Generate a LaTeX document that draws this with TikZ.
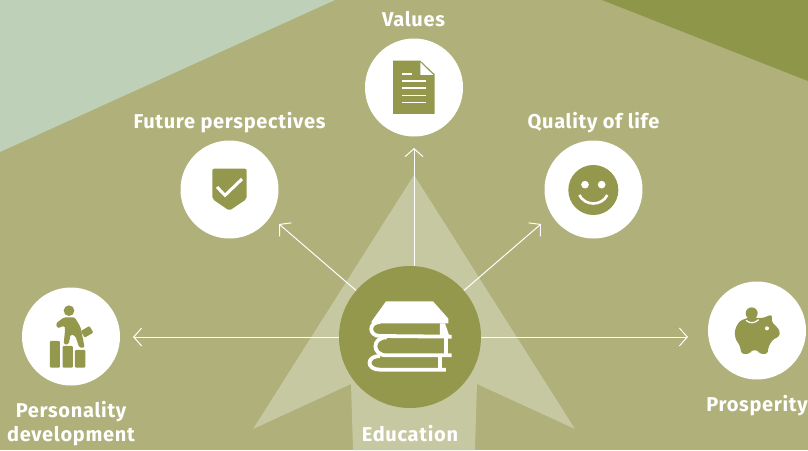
\documentclass[tikz,border=0pt]{standalone}
\usepackage{fontspec}
\setmainfont{Fira Sans}[LetterSpace=3.5]
\usetikzlibrary{arrows.meta}
\definecolor{bgolive}{HTML}{AFB07A}
\definecolor{darkolive}{HTML}{93984D}
\definecolor{cornerolive}{HTML}{8E9649}
\definecolor{palegreen}{HTML}{BFD0B8}
\definecolor{palestar}{HTML}{C6C8A2}
\tikzset{
	topic/.style={circle, fill=white, minimum size=98pt, inner sep=0pt},
	hub/.style={circle, fill=darkolive, minimum size=142pt, inner sep=0pt},
	label/.style={text=white, font=\fontsize{20}{24.5}\selectfont\bfseries, align=center, inner sep=0pt},
	spoke/.style={white, line width=1pt, -{Straight Barb[length=8pt, width=18pt, line width=1pt]}},
	icon/.style={x=0.3333pt, y=-0.3333pt},
	bookline/.style={white, line width=3.8pt},
}
\begin{document}
\begin{tikzpicture}[x=1pt, y=-1pt]
	\useasboundingbox (0, 0) rectangle (808, 450);
	\fill [bgolive] (0, 0) rectangle (808, 450);
	\fill [palegreen] (0, 0) -- (335, 0) -- (0, 152) -- cycle;
	\fill [cornerolive] (602, 0) -- (808, 0) -- (808, 81) -- cycle;
	\fill [palestar] (414, 175) -- (575, 429) -- (477, 384) -- (475, 450) -- (353, 450) -- (351, 384) -- (253, 429) -- cycle;

	\node [topic] (values) at (414, 87.5) {};
	\node [topic] (future) at (229.5, 189.5) {};
	\node [topic] (quality) at (593.5, 189.5) {};
	\node [topic] (personality) at (71, 336.5) {};
	\node [topic] (prosperity) at (757, 330.5) {};

	\coordinate (tipvalues) at (414, 148);
	\coordinate (tipfuture) at (279, 224);
	\coordinate (tipquality) at (541, 224);
	\coordinate (tippersonality) at (133, 337);
	\coordinate (tipprosperity) at (688, 337);
	\coordinate (footvalues) at (414, 337);
	\coordinate (hubcentre) at (410, 337);

	\draw [spoke] (footvalues) -- (tipvalues);
	\foreach \n in {future, quality, personality, prosperity}{
		\draw [spoke] (hubcentre) -- (tip\n);
	}
	\node [hub] (education) at (hubcentre) {};

	\node [label] (valuestext) at (413.5, 19.5) {Values};
	\node [label] (futuretext) at (229.5, 122.5) {Future perspectives};
	\node [label] (qualitytext) at (593.5, 122.5) {Quality of life};
	\node [label] (personalitytext) at (71, 423.5) {Personality\\development};
	\node [label] (prosperitytext) at (757, 405.5) {Prosperity};
	\node [label] (educationtext) at (410, 433.5) {Education};

	% books
	\begin{scope}[shift={(330, 260)}, icon]
		\fill [white] (168, 124) -- (309, 124) -- (355, 176) -- (355, 190) -- (125, 190) -- (125, 184) -- cycle;
		\fill [white] (330, 190) -- (345, 190) -- (358, 228) -- (330, 228) -- cycle;
		\draw [bookline] (150, 186) .. controls (115, 186) and (115, 228) .. (150, 228) -- (365, 230);
		\draw [bookline] (170, 232) .. controls (125, 232) and (125, 286) .. (170, 286) -- (365, 286);
		\draw [bookline] (349, 232) -- (349, 286);
		\draw [bookline] (150, 288) .. controls (108, 288) and (108, 329) .. (150, 329) -- (348, 329);
		\draw [bookline] (330, 288) -- (330, 329);
	\end{scope}

	% climbing man
	\begin{scope}[shift={(10, 280)}, icon]
		\fill [darkolive, rounded corners=1pt] (120, 183) rectangle (150, 263);
		\fill [darkolive, rounded corners=1pt] (158, 198) rectangle (189, 263);
		\fill [darkolive, rounded corners=1pt] (195, 210) rectangle (226, 263);
		\fill [darkolive] (177, 92) circle [radius=16];
		\fill [darkolive, rounded corners=1.5pt] (138, 130) -- (162, 112) -- (194, 112) -- (212, 142) -- (224, 203) -- (208, 203) -- (196, 168) -- (182, 163) -- (176, 193) -- (161, 193) -- (165, 152) -- (164, 137) -- (142, 145) -- cycle;
		\fill [darkolive, rotate around={30:(231, 155)}, rounded corners=1pt] (216, 144) rectangle (246, 167);
	\end{scope}

	% piggy bank
	\begin{scope}[shift={(700, 275)}, icon]
		\fill [darkolive, rounded corners=3pt] (124, 237) -- (120, 212) -- (106, 192) -- (104, 165) -- (118, 138) -- (150, 126) -- (186, 130) -- (217, 118) -- (214, 140) -- (230, 155) -- (240, 168) -- (238, 186) -- (222, 190) -- (206, 212) -- (203, 237) -- (178, 237) -- (176, 226) -- (152, 226) -- (150, 237) -- cycle;
		\draw [white, line width=1.2pt] (138, 136) .. controls (150, 146) and (162, 146) .. (176, 134);
		\fill [darkolive] (155, 115) circle [radius=18];
		\fill [white] (201, 160) circle [radius=6];
	\end{scope}

	% document
	\begin{scope}[shift={(360, 35)}, icon]
		\fill [darkolive] (99, 77) -- (181, 77) -- (224, 118) -- (224, 237) -- (99, 237) -- cycle;
		\fill [white] (181, 82) -- (181, 120) -- (220, 120) -- cycle;
		\draw [white, line width=1.2pt] (127, 117) -- (157, 117);
		\foreach \y in {138, 159, 181, 202}{
			\draw [white, line width=1.2pt] (127, \y) -- (197, \y);
		}
	\end{scope}

	% shield
	\begin{scope}[shift={(175, 135)}, icon]
		\fill [darkolive, rounded corners=2pt] (112, 101) -- (215, 101) -- (215, 192) -- (163, 227) -- (112, 192) -- cycle;
		\draw [white, line width=3pt] (126, 156) -- (150, 181) -- (201, 132);
	\end{scope}

	% smiley
	\begin{scope}[shift={(540, 135)}, icon]
		\fill [darkolive] (160, 165) circle [radius=75];
		\fill [white] (135, 149) circle [radius=11.5];
		\fill [white] (185, 149) circle [radius=11.5];
		\draw [white, line width=2.6pt] (118, 180) .. controls (135, 214) and (185, 214) .. (202, 180);
	\end{scope}
\end{tikzpicture}
\end{document}
